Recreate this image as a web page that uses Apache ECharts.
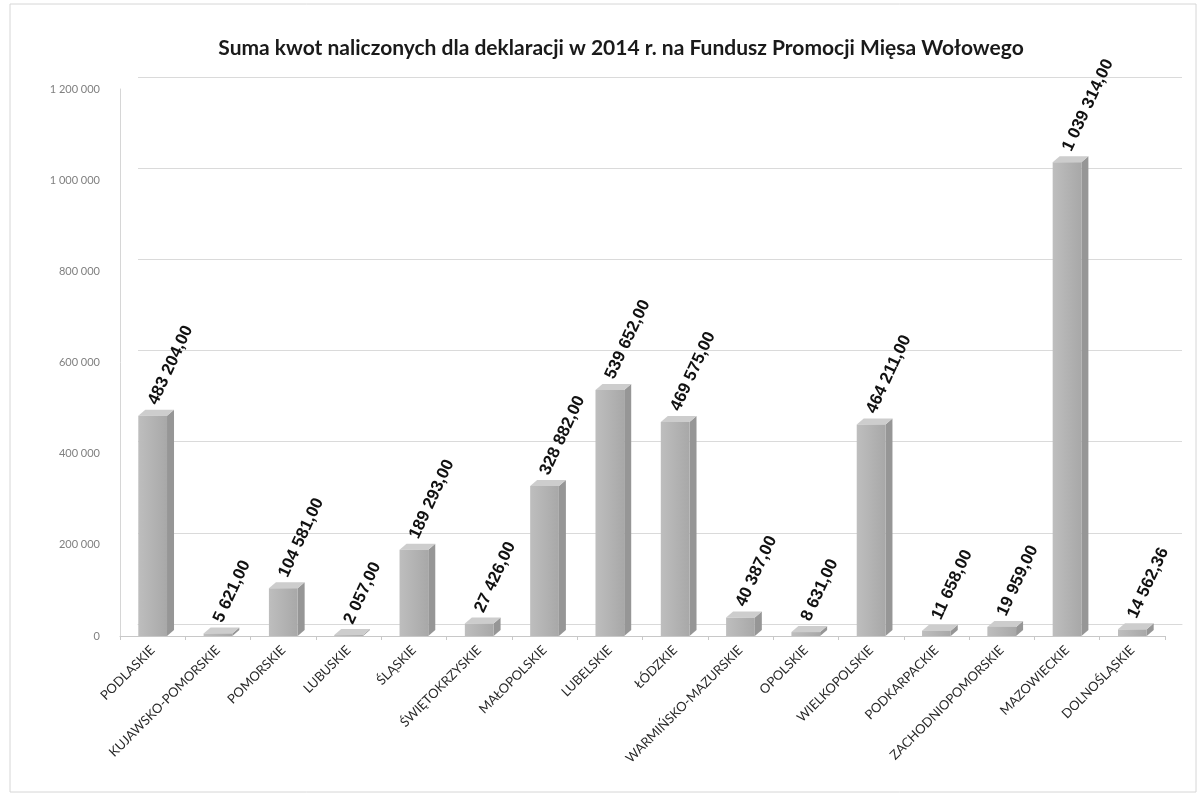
<!DOCTYPE html>
<html>
<head>
<meta charset="utf-8">
<script src="https://cdn.jsdelivr.net/npm/echarts@6/dist/echarts.min.js"></script>
<style>html,body{margin:0;padding:0;background:#fff;}#c{width:1202px;height:796px;}</style>
</head>
<body>
<div id="c"></div>
<script>
const titleText = 'Suma kwot naliczonych dla deklaracji w 2014 r. na Fundusz Promocji Mięsa Wołowego';
const categories = ['PODLASKIE','KUJAWSKO-POMORSKIE','POMORSKIE','LUBUSKIE','ŚLĄSKIE','ŚWIĘTOKRZYSKIE','MAŁOPOLSKIE','LUBELSKIE','ŁÓDZKIE','WARMIŃSKO-MAZURSKIE','OPOLSKIE','WIELKOPOLSKIE','PODKARPACKIE','ZACHODNIOPOMORSKIE','MAZOWIECKIE','DOLNOŚLĄSKIE'];
const values = [483204.00, 5621.00, 104581.00, 2057.00, 189293.00, 27426.00, 328882.00, 539652.00, 469575.00, 40387.00, 8631.00, 464211.00, 11658.00, 19959.00, 1039314.00, 14562.36];
const yMin = 0, yMax = 1200000, yStep = 200000;

function groupThousands(s){ return s.replace(/\B(?=(\d{3})+(?!\d))/g, ' '); }
function fmtValue(v){ const p = v.toFixed(2).split('.'); return groupThousands(p[0]) + ',' + p[1]; }
function fmtAxis(v){ return groupThousands(String(Math.round(v))); }

const chart = echarts.init(document.getElementById('c'), null, {renderer:'canvas'});
const BAR_RATIO = 0.44;
const customData = values.map((v,i)=>[i,v]);

chart.setOption({
  backgroundColor:'#ffffff',
  animation:false,
  title:{
    text:titleText, left:616, top:33, textAlign:'center',
    textStyle:{fontFamily:'Lato', fontSize:21, fontWeight:'bold', color:'#1a1a1a'}
  },
  graphic:[{type:'rect', shape:{x:10,y:4,width:1186,height:788}, style:{fill:'none', stroke:'#d6d6d6', lineWidth:1}, silent:true, z:-10}],
  grid:[
    {left:120, right:37, top:89, bottom:160},
    {left:138, right:20, top:77, bottom:172}
  ],
  xAxis:[
    {type:'category', gridIndex:0, data:categories,
     axisLine:{show:true, lineStyle:{color:'#c8c8c8'}},
     axisTick:{show:true, length:4, lineStyle:{color:'#c8c8c8'}},
     axisLabel:{interval:0, rotate:45, margin:12, fontFamily:'Lato', fontSize:13, color:'#2a2a2a'}},
    {type:'category', gridIndex:1, data:categories, show:true,
     axisLine:{show:true, lineStyle:{color:'#d9d9d9'}}, axisTick:{show:false}, axisLabel:{show:false}}
  ],
  yAxis:[
    {type:'value', gridIndex:0, min:yMin, max:yMax, interval:yStep,
     splitLine:{show:false},
     axisLine:{show:true, lineStyle:{color:'#d6d6d6'}},
     axisTick:{show:false},
     axisLabel:{formatter:fmtAxis, margin:20, fontFamily:'Lato', fontSize:11, color:'#808080'}},
    {type:'value', gridIndex:1, min:yMin, max:yMax, interval:yStep,
     splitLine:{show:true, lineStyle:{color:'#dadada', width:1}},
     axisLine:{show:false}, axisTick:{show:false}, axisLabel:{show:false}}
  ],
  series:[
    {type:'custom', xAxisIndex:0, yAxisIndex:0, z:2, data:customData, encode:{x:0,y:1},
     renderItem:function(params, api){
       const i = api.value(0), v = api.value(1);
       const top = api.coord([i, v]);
       const bot = api.coord([i, 0]);
       const bw = api.size([1,0])[0]*BAR_RATIO;
       const xl = top[0]-bw/2, xr = top[0]+bw/2;
       const dx = 7, dy = 6;
       return {type:'group', children:[
         {type:'polygon', shape:{points:[[xr,top[1]],[xr+dx,top[1]-dy],[xr+dx,bot[1]-dy],[xr,bot[1]]]}, style:{fill:'#969696'}},
         {type:'polygon', shape:{points:[[xl,top[1]],[xr,top[1]],[xr+dx,top[1]-dy],[xl+dx,top[1]-dy]]}, style:{fill:'#cdcdcd'}}
       ]};
     }},
    {type:'bar', xAxisIndex:0, yAxisIndex:0, z:3, data:values, barWidth:(BAR_RATIO*100)+'%',
     itemStyle:{color:new echarts.graphic.LinearGradient(0,0,1,0,[{offset:0,color:'#bebebe'},{offset:1,color:'#a8a8a8'}])},
     label:{show:true, position:'top', distance:12, rotate:65, align:'left', verticalAlign:'middle',
       formatter:function(p){return fmtValue(p.value);},
       fontFamily:'Liberation Sans', fontWeight:'bold', fontSize:17, color:'#111'}}
  ]
});
</script>
</body>
</html>
